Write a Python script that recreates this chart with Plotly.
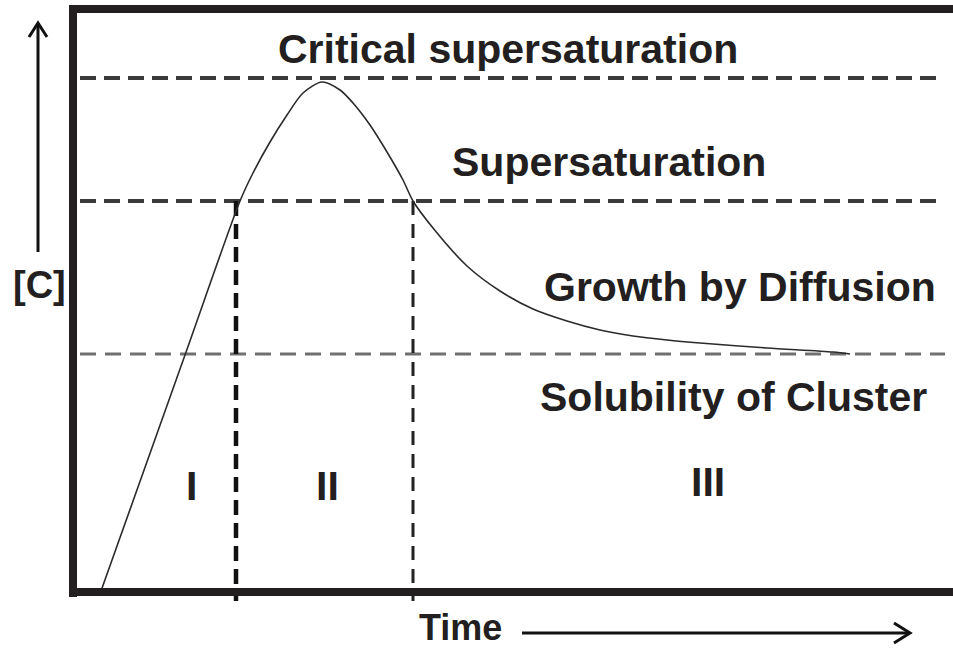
import plotly.graph_objects as go

# ---- data (time / concentration in arbitrary units) ----
curve_time = [28, 112, 167, 180, 197, 214, 230, 249, 267, 280, 297, 314, 330, 340,
              360, 394, 427, 460, 494, 527, 560, 594, 627, 694, 760, 777]
curve_conc = [1, 237, 391, 419, 450, 477, 499, 510, 502, 489, 467, 440, 412, 391,
              364, 326, 301, 283, 271, 262, 256, 252, 249, 244, 240, 238]

level_names = ["Critical supersaturation", "Supersaturation", "Solubility of Cluster"]
level_conc = [514, 391, 238]
level_start = [7, 7, 7]
level_end = [870, 867, 872]

stage_bounds_time = [163, 340]      # start / end of nucleation (stage II)
stage_labels = ["I", "II", "III"]
stage_label_time = [118, 254, 635]
stage_label_conc = [106, 106, 110]

region_labels = ["Critical supersaturation", "Supersaturation", "Growth by Diffusion",
                 "Solubility of Cluster"]
region_label_time = [435, 536, 667, 660]
region_label_conc = [543, 430, 305, 195]

INK = "#231f20"
FONT = "Liberation Sans, Arial, sans-serif"

fig = go.Figure()

# horizontal dashed levels
level_styles = [
    dict(color="#3b3b3b", width=4, dash="16px,8px"),
    dict(color="#3b3b3b", width=4, dash="16px,8px"),
    dict(color="#707070", width=3, dash="16px,9px"),
]
for c, s, e, st in zip(level_conc, level_start, level_end, level_styles):
    fig.add_trace(go.Scatter(x=[s, e], y=[c, c], mode="lines", line=st,
                             hoverinfo="skip", showlegend=False))

# vertical dashed stage boundaries
v_styles = [dict(color="#111111", width=4.5, dash="15px,8px"),
            dict(color="#222222", width=3, dash="14px,9px")]
for t, st in zip(stage_bounds_time, v_styles):
    fig.add_trace(go.Scatter(x=[t, t], y=[level_conc[1], -9], mode="lines", line=st,
                             hoverinfo="skip", showlegend=False))

# concentration curve
fig.add_trace(go.Scatter(x=curve_time, y=curve_conc, mode="lines",
                         line=dict(color="#2b2b2b", width=1.6, shape="spline", smoothing=0.8),
                         hoverinfo="skip", showlegend=False))

# frame (left, top, bottom)
frame = dict(color=INK, width=8)
shapes = [
    dict(type="line", xref="x", yref="y", x0=0, x1=0, y0=-5, y1=587, line=frame),
    dict(type="line", xref="x", yref="y", x0=-4, x1=885, y0=583, y1=583, line=frame),
    dict(type="line", xref="x", yref="y", x0=-4, x1=885, y0=0, y1=0, line=frame),
    # y-axis arrow
    dict(type="path", xref="x", yref="y", path="M -35,340 L -35,568",
         line=dict(color="#111111", width=3)),
    dict(type="path", xref="x", yref="y", path="M -44,555 L -35,569 L -26,555",
         line=dict(color="#111111", width=3)),
    # time arrow
    dict(type="path", xref="x", yref="y", path="M 449,-41 L 836,-41",
         line=dict(color="#111111", width=3)),
    dict(type="path", xref="x", yref="y", path="M 821,-31 L 837,-41 L 821,-51",
         line=dict(color="#111111", width=3)),
]

annotations = []
for txt, t, c in zip(region_labels, region_label_time, region_label_conc):
    annotations.append(dict(text=txt, x=t, y=c, xref="x", yref="y", showarrow=False,
                            xanchor="center", yanchor="middle",
                            font=dict(family=FONT, size=41, color=INK)))
for txt, t, c in zip(stage_labels, stage_label_time, stage_label_conc):
    annotations.append(dict(text=txt, x=t, y=c, xref="x", yref="y", showarrow=False,
                            xanchor="center", yanchor="middle",
                            font=dict(family=FONT, size=41, color=INK)))
annotations.append(dict(text="[C]", x=-34, y=307, xref="x", yref="y", showarrow=False,
                        xanchor="center", yanchor="middle",
                        font=dict(family=FONT, size=38, color=INK)))
annotations.append(dict(text="Time", x=387, y=-35, xref="x", yref="y", showarrow=False,
                        xanchor="center", yanchor="middle", borderpad=0,
                        font=dict(family=FONT, size=36, color=INK)))

for a in annotations:
    a["text"] = "<b>" + a["text"] + "</b>"

fig.update_layout(
    width=953, height=649,
    margin=dict(l=0, r=0, t=0, b=0),
    paper_bgcolor="white", plot_bgcolor="white",
    xaxis=dict(range=[-73, 880], visible=False, fixedrange=True),
    yaxis=dict(range=[-57, 592], visible=False, fixedrange=True),
    shapes=shapes, annotations=annotations,
    showlegend=False,
)

fig.write_html(
    "out.html",
    config={"displayModeBar": False},
    post_script="document.body.style.margin='0';document.body.style.padding='0';"
                "document.body.style.overflow='hidden';",
)
